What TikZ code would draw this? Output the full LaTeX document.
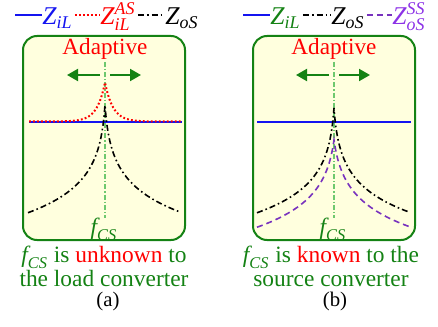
\documentclass[tikz,border=0pt]{standalone}
\usepackage{amsmath}
\usepackage{fontspec}
\setmainfont{Liberation Serif}
\usetikzlibrary{arrows.meta,positioning}

\definecolor{boxgreen}{RGB}{20,130,20}
\definecolor{boxfill}{RGB}{255,255,222}
\definecolor{lightgreen}{RGB}{110,200,110}
\definecolor{zblue}{RGB}{20,20,240}
\definecolor{zpurple}{RGB}{120,50,190}
\definecolor{zviolet}{RGB}{140,50,230}

\newcommand{\zsub}[1]{$\textit{Z}_{\textit{#1}}$}
\newcommand{\zsubsup}[2]{$\textit{Z}_{\textit{#1}}^{\textit{#2}}$}
\newcommand{\fcs}{$\textit{f}_{\textit{CS}}$}

\begin{document}
\begin{tikzpicture}[x=0.5pt,y=-0.5pt,
  panel/.style={draw=boxgreen,line width=1pt,fill=boxfill,rounded corners=7pt},
  zil/.style={draw=zblue,line width=1pt},
  zilas/.style={draw=red,line width=1pt,dash pattern=on 0.9pt off 1.1pt},
  zos/.style={draw=black,line width=0.8pt,dash pattern=on 3pt off 1.5pt on 0.8pt off 1.5pt},
  zosss/.style={draw=zpurple,line width=0.8pt,dash pattern=on 3pt off 2pt},
  fcsline/.style={draw=lightgreen,line width=0.6pt,dash pattern=on 2.5pt off 1pt on 0.6pt off 1pt},
  sweep/.style={draw=boxgreen,line width=1pt,-{Triangle[length=5.5pt,width=6pt]}},
  legend/.style={anchor=base west,inner sep=0pt,font=\fontsize{12.8}{14}\selectfont},
  adapt/.style={anchor=base,inner sep=0pt,text=red,font=\fontsize{11.6}{13}\selectfont},
  fcslabel/.style={inner sep=0pt,text=boxgreen,font=\fontsize{11.7}{12}\selectfont},
  caption/.style={align=center,inner sep=0pt,text=boxgreen,font=\fontsize{11.7}{12}\selectfont},
  tag/.style={anchor=base,inner sep=0pt,font=\fontsize{10.4}{11}\selectfont}]
  \useasboundingbox (0,0) rectangle (438,326);

  % (a) legend
  \coordinate (la) at (15,15);
  \node (zila) [legend,text=zblue] at (42,25) {\zsub{iL}};
  \node (zilasa) [legend,text=red] at (100,25) {\zsubsup{iL}{AS}};
  \node (zosa) [legend] at (165,25) {\zsub{oS}};
  \draw[zil] (la) -- (la -| zila.west);
  \draw[zilas] ([xshift=1pt]zila.east |- la) -- (la -| zilasa.west);
  \draw[zos] ([xshift=1pt]zilasa.east |- la) -- (la -| zosa.west);

  % (b) legend
  \coordinate (lb) at (243,15);
  \node (zilb) [legend,text=boxgreen] at (270,25) {\zsub{iL}};
  \node (zosb) [legend] at (331,25) {\zsub{oS}};
  \node (zossb) [legend,text=zviolet] at (392,25) {\zsubsup{oS}{SS}};
  \draw[zil] (lb) -- (lb -| zilb.west);
  \draw[zos] ([xshift=1pt]zilb.east |- lb) -- (lb -| zosb.west);
  \draw[zosss] ([xshift=1pt]zosb.east |- lb) -- (lb -| zossb.west);

  % panel (a)
  \draw[panel] (23,36) rectangle (185,240);
  \node (adapta) [adapt] at (105,55) {Adaptive};
  \draw[fcsline] (105,62) -- (105,218);
  \coordinate (ca) at (105,75);
  \draw[sweep] ([xshift=-2.5pt]ca) -- ([xshift=-19pt]ca);
  \draw[sweep] ([xshift=2.5pt]ca) -- ([xshift=18pt]ca);
  \draw[zil] (29,122) -- (182,122);
  \draw[zilas] plot[domain=-76:77,samples=154] ({105+\x},{121.5-39*exp(-abs(\x)/8)});
  \draw[zos] plot[domain=-77:74,samples=152] ({105+\x},{105+29.3*ln(1+abs(\x)/2)});
  \node (fcsa) [fcslabel] at (104,229) {\fcs};

  % panel (b)
  \draw[panel] (253,36) rectangle (415,240);
  \node (adaptb) [adapt] at (334,55) {Adaptive};
  \draw[fcsline] (334,62) -- (334,218);
  \coordinate (cb) at (334,75);
  \draw[sweep] ([xshift=-2.5pt]cb) -- ([xshift=-19pt]cb);
  \draw[sweep] ([xshift=2.5pt]cb) -- ([xshift=18pt]cb);
  \draw[zil] (257,122) -- (411,122);
  \draw[zos] plot[domain=-77:74,samples=152] ({334+\x},{108+28.5*ln(1+abs(\x)/2)});
  \draw[zosss] plot[domain=-77:76,samples=154] ({334+\x},{140+29*ln(1+abs(\x)/4)});
  \node (fcsb) [fcslabel] at (333,229) {\fcs};

  % captions
  \node (capa) [caption] at (104,266) {\fcs{} is {\color{red}unknown} to\\the load converter};
  \node (capb) [caption] at (331,266) {\fcs{} is {\color{red}known} to the\\source converter};
  \node (taga) [tag] at (108,306) {(a)};
  \node (tagb) [tag] at (335,306) {(b)};
\end{tikzpicture}
\end{document}
